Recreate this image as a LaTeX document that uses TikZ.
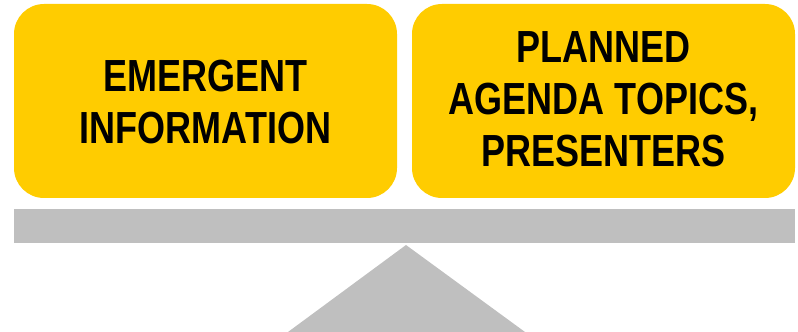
\documentclass[tikz,border=0pt]{standalone}
\usepackage{fontspec}
\setmainfont{Liberation Sans}[FakeStretch=0.8]
\begin{document}
\begin{tikzpicture}[x=1pt,y=1pt,
  card/.style={fill=yellowbox,draw=none,rounded corners=30pt},
  cardtext/.style={align=center,font=\bfseries\fontsize{45}{52}\selectfont,text=black,inner sep=0pt}]
\definecolor{yellowbox}{HTML}{FFCC00}
\definecolor{beamgray}{HTML}{BFBFBF}
\useasboundingbox (0,0) rectangle (798,332);
\begin{scope}
\clip (0,0) rectangle (798,332);
\fill[beamgray] (406,87) coordinate (apex) -- (288,0) -- (525,0) -- cycle;
\end{scope}
\fill[beamgray] (14,89) rectangle (795,123);
\fill[card] (14,134) rectangle (397,328);
\fill[card] (412,134) rectangle (795,328);
\node[cardtext] (left) at (205.5,230) {EMERGENT\\INFORMATION};
\node[cardtext] (right) at (603.5,233) {PLANNED\\AGENDA TOPICS,\\PRESENTERS};
\end{tikzpicture}
\end{document}
